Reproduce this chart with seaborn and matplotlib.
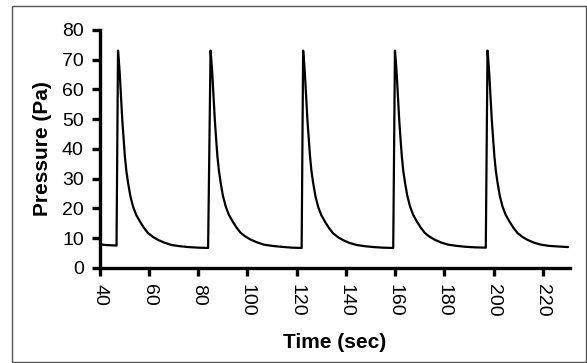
import matplotlib
matplotlib.use('Agg')
import matplotlib.pyplot as plt
from matplotlib.patches import Rectangle
import seaborn as sns
import pandas as pd

# values (time in sec, pressure in Pa)
time_sec = [40.0, 42.0, 44.5, 46.8,
            47.4, 47.75, 48.1, 48.45, 48.8, 49.15, 49.5, 49.85, 50.2, 50.8, 51.5, 52.4, 53.5, 54.8,
            56.3, 57.9, 59.6, 61.6, 63.7, 66.2, 69.1, 72.4, 75.9, 80.0, 84.0,
            85.0, 85.35, 85.7, 86.05, 86.4, 86.75, 87.1, 87.45, 87.8, 88.4, 89.1, 90.0, 91.1, 92.4,
            93.9, 95.5, 97.2, 99.2, 101.3, 103.8, 106.7, 110.0, 113.5, 118.0, 122.0,
            122.6, 122.95, 123.3, 123.65, 124.0, 124.35, 124.7, 125.05, 125.4, 126.0, 126.7, 127.6, 128.7, 130.0,
            131.5, 133.1, 134.8, 136.8, 138.9, 141.4, 144.3, 147.6, 151.1, 155.0, 159.2,
            159.9, 160.25, 160.6, 160.95, 161.3, 161.65, 162.0, 162.35, 162.7, 163.3, 164.0, 164.9, 166.0, 167.3,
            168.8, 170.4, 172.1, 174.1, 176.2, 178.7, 181.6, 184.9, 188.4, 192.5, 196.8,
            197.5, 197.85, 198.2, 198.55, 198.9, 199.25, 199.6, 199.95, 200.3, 200.9, 201.6, 202.5, 203.6, 204.9,
            206.4, 208.0, 209.7, 211.7, 213.8, 216.3, 219.2, 222.5, 226.0, 230.2]
pressure_pa = [8.0, 7.7, 7.6, 7.5,
               73.0, 69.5, 65.4, 60.0, 54.2, 49.5, 45.3, 41.2, 37.4, 32.5, 28.5, 24.2, 20.6, 17.8,
               15.6, 13.5, 11.7, 10.4, 9.4, 8.5, 7.7, 7.3, 7.0, 6.8, 6.7,
               73.0, 69.4, 65.2, 59.8, 54.0, 49.4, 45.1, 41.1, 37.3, 32.6, 28.6, 24.3, 20.8, 17.9,
               15.7, 13.6, 11.8, 10.5, 9.5, 8.6, 7.8, 7.4, 7.1, 6.8, 6.7,
               73.0, 69.6, 65.5, 60.1, 54.3, 49.6, 45.4, 41.3, 37.5, 32.4, 28.4, 24.1, 20.5, 17.7,
               15.5, 13.4, 11.6, 10.3, 9.3, 8.4, 7.7, 7.3, 7.0, 6.8, 6.7,
               73.0, 69.5, 65.3, 59.9, 54.1, 49.5, 45.2, 41.2, 37.4, 32.5, 28.6, 24.3, 20.7, 17.8,
               15.6, 13.5, 11.7, 10.4, 9.4, 8.5, 7.8, 7.4, 7.1, 6.9, 6.8,
               73.0, 69.5, 65.4, 60.0, 54.2, 49.5, 45.3, 41.2, 37.4, 32.5, 28.5, 24.2, 20.6, 17.8,
               15.6, 13.5, 11.7, 10.4, 9.4, 8.5, 7.8, 7.4, 7.2, 7.0]

x_ticks = [40, 60, 80, 100, 120, 140, 160, 180, 200, 220]
y_ticks = [0, 10, 20, 30, 40, 50, 60, 70, 80]

df = pd.DataFrame({'Time (sec)': time_sec, 'Pressure (Pa)': pressure_pa})

sns.set_style('ticks')
plt.rcParams['font.family'] = ['Liberation Sans', 'DejaVu Sans']
plt.rcParams['axes.labelcolor'] = 'black'
plt.rcParams['text.color'] = 'black'

fig = plt.figure(figsize=(5.87, 3.63), dpi=100)
ax = fig.add_axes([0.170, 0.262, 0.801, 0.656])

sns.lineplot(data=df, x='Time (sec)', y='Pressure (Pa)', ax=ax, color='black',
             linewidth=1.6, sort=False, estimator=None)

ax.set_xlim(40, 231)
ax.set_ylim(0, 80)
ax.set_xticks(x_ticks)
ax.set_yticks(y_ticks)
ax.set_xticklabels([str(v) for v in x_ticks], rotation=-90, fontsize=14)
ax.set_yticklabels([str(v) for v in y_ticks], fontsize=14)
ax.set_xlabel('Time (sec)', fontsize=15, fontweight='bold', labelpad=12, color='black')
ax.set_ylabel('Pressure (Pa)', fontsize=15, fontweight='bold', labelpad=7, color='black')

for side in ['top', 'right']:
    ax.spines[side].set_visible(False)
for side in ['left', 'bottom']:
    ax.spines[side].set_linewidth(2.4)
    ax.spines[side].set_color('black')
ax.tick_params(axis='both', direction='out', length=5.5, width=2.4, color='black',
               labelcolor='black', pad=6)

# outer frame around the whole picture
fig.patches.append(Rectangle((12 / 587, 1.5 / 363), 573.5 / 587, 355.5 / 363,
                             transform=fig.transFigure, fill=False,
                             edgecolor='#555555', linewidth=1.0))

fig.savefig('out.png', dpi=100)
plt.close(fig)
